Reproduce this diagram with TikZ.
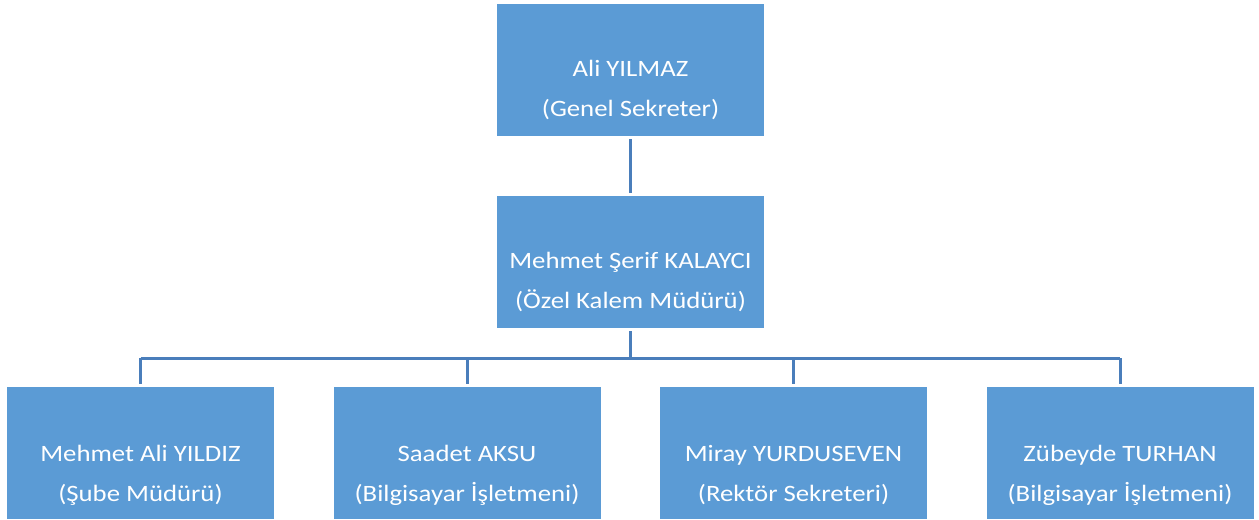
\documentclass[tikz,border=0pt]{standalone}
\usepackage{fontspec}
\setmainfont{Carlito}[FakeStretch=1.14]
\usetikzlibrary{calc}
\definecolor{boxfill}{HTML}{5B9BD5}
\definecolor{linecol}{HTML}{4A7EBB}
\tikzset{
  box/.style={fill=boxfill, draw=none, minimum width=267*0.75pt, minimum height=132*0.75pt, inner sep=0pt},
  txt/.style={text=white, align=center, anchor=base, inner sep=0pt, font=\fontsize{17.6}{30.5}\selectfont},
  conn/.style={draw=linecol, line width=2.25pt},
}
\begin{document}
\begin{tikzpicture}[x=0.75pt,y=-0.75pt]
\useasboundingbox (0,0) rectangle (1259,519);
\node[box] (a) at (630.5,70) {};
\node[box] (b) at (630.5,262) {};
\node[box] (c1) at (140.5,453) {};
\node[box] (c2) at (467,453) {};
\node[box] (c3) at (793.5,453) {};
\node[box] (c4) at (1120,453) {};
\node[txt] (ta) at ($(a.north)+(0,113)$) {Ali YILMAZ\\(Genel Sekreter)};
\node[txt] (tb) at ($(b.north)+(0,113)$) {Mehmet Şerif KALAYCI\\(Özel Kalem Müdürü)};
\node[txt] (t1) at ($(c1.north)+(0,115)$) {Mehmet Ali YILDIZ\\(Şube Müdürü)};
\node[txt] (t2) at ($(c2.north)+(0,115)$) {Saadet AKSU\\(Bilgisayar İşletmeni)};
\node[txt] (t3) at ($(c3.north)+(0,115)$) {Miray YURDUSEVEN\\(Rektör Sekreteri)};
\node[txt] (t4) at ($(c4.north)+(0,115)$) {Zübeyde TURHAN\\(Bilgisayar İşletmeni)};
\coordinate (hbar) at (630.5,358);
\draw[conn, shorten <=3*0.75pt, shorten >=3*0.75pt] (a.south) -- (b.north);
\draw[conn, shorten <=3*0.75pt] (b.south) -- (b.south |- hbar);
\draw[conn] (hbar -| c1.north) -- (hbar -| c4.north);
\foreach \c in {c1,c2,c3,c4}{
  \draw[conn, shorten >=3*0.75pt] (hbar -| \c.north) -- (\c.north);
}
\end{tikzpicture}
\end{document}
